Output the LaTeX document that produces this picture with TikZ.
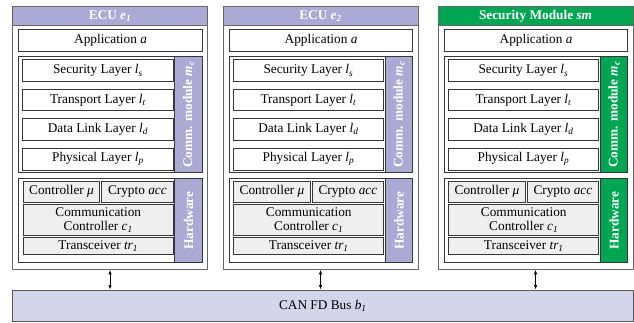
\documentclass[tikz,border=0pt]{standalone}
\usepackage{fontspec}
\setmainfont{Liberation Serif}
\usetikzlibrary{arrows.meta}

\definecolor{ecupurple}{RGB}{170,170,212}
\definecolor{smgreen}{RGB}{0,166,81}
\definecolor{busfill}{RGB}{212,212,234}
\definecolor{hwfill}{RGB}{239,239,239}
\definecolor{edge}{RGB}{55,55,55}

\tikzset{
  ecubox/.style={draw=gray!80!black, line width=0.8pt, anchor=north west, inner sep=0pt},
  header/.style={draw=gray!80!black, line width=0.8pt, anchor=north west, inner sep=0pt, text=white, font=\fontsize{13.3}{15}\selectfont\bfseries},
  layerbox/.style={draw=edge, line width=1.1pt, fill=white, anchor=north west, inner sep=0pt},
  hwbox/.style={draw=edge, line width=1.1pt, fill=hwfill, anchor=north west, inner sep=0pt, align=center},
  sidebar/.style={draw=edge, line width=1.1pt, anchor=north west, inner sep=0pt},
  sidetext/.style={rotate=90, text=white, font=\fontsize{13.3}{15}\selectfont\bfseries}
}

\begin{document}
\begin{tikzpicture}[x=1pt, y=-1pt, font=\fontsize{13.3}{14.5}\selectfont, >={Latex[length=4.5pt,width=3.5pt]}]
\useasboundingbox (0,0) rectangle (634,322);
\foreach \L/\n/\title/\col in {12/a/{ECU \textit{e\textsubscript{1}}}/ecupurple,
                                222.5/b/{ECU \textit{e\textsubscript{2}}}/ecupurple,
                                437.5/c/{Security Module \textit{sm}}/smgreen}{
  % ECU frame and title
  \node[ecubox, minimum width=195.3pt, minimum height=263pt] (ecu\n) at (\L,6) {};
  \node[header, fill=\col, minimum width=195.3pt, minimum height=19pt] (head\n) at (\L,6) {\title};
  \node[layerbox, minimum width=183.4pt, minimum height=22pt] (app\n) at (\L+6.3,29) {Application \textit{a}};
  % communication module
  \node[layerbox, minimum width=183.7pt, minimum height=115.7pt] (comm\n) at (\L+6,56) {};
  \node[sidebar, fill=\col, minimum width=27.4pt, minimum height=115.7pt] (commbar\n) at (\L+162.3,56) {};
  \node[sidetext] at (commbar\n.center) {Comm. module \textit{m\textsubscript{c}}};
  \node[layerbox, minimum width=150.7pt, minimum height=21.7pt] (ls\n) at (\L+10,59.3) {Security Layer \textit{l\textsubscript{s}}};
  \node[layerbox, minimum width=150.7pt, minimum height=21.7pt] (lt\n) at (\L+10,88.5) {Transport Layer \textit{l\textsubscript{t}}};
  \node[layerbox, minimum width=150.7pt, minimum height=21.7pt] (ld\n) at (\L+10,118) {Data Link Layer \textit{l\textsubscript{d}}};
  \node[layerbox, minimum width=150.7pt, minimum height=21.7pt] (lp\n) at (\L+10,147.8) {Physical Layer \textit{l\textsubscript{p}}};
  % hardware
  \node[layerbox, minimum width=183.7pt, minimum height=84.6pt] (hw\n) at (\L+6,177.7) {};
  \node[sidebar, fill=\col, minimum width=27.4pt, minimum height=84.6pt] (hwbar\n) at (\L+162.3,177.7) {};
  \node[sidetext] at (hwbar\n.center) {Hardware};
  \node[hwbox, minimum width=76.6pt, minimum height=21pt] (ctrl\n) at (\L+10.7,180.7) {Controller \textit{μ}};
  \node[hwbox, minimum width=71.7pt, minimum height=21pt] (acc\n) at (\L+89,180.7) {Crypto \textit{acc}};
  \node[hwbox, minimum width=150pt, minimum height=30.7pt] (cc\n) at (\L+10.7,204.3) {Communication\\Controller \textit{c\textsubscript{1}}};
  \node[hwbox, minimum width=150pt, minimum height=16.7pt] (tr\n) at (\L+10.7,237.3) {Transceiver \textit{tr\textsubscript{1}}};
}
% bus
\node[draw=gray!70!black, line width=1pt, fill=busfill, anchor=north west, inner sep=0pt, minimum width=620.7pt, minimum height=31pt] (bus) at (12,289.5) {CAN FD Bus \textit{b\textsubscript{1}}};
\foreach \n in {a,b,c}
  \draw[line width=0.8pt, <->] (ecu\n.south) -- (ecu\n.south |- bus.north);
\end{tikzpicture}
\end{document}
